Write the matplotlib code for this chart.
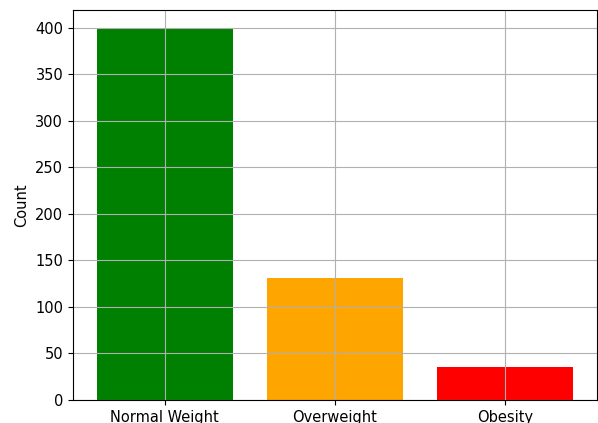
import matplotlib
matplotlib.use("Agg")
import matplotlib.pyplot as plt

categories = ["Normal Weight", "Overweight", "Obesity"]
counts = [399, 131, 35]
colors = ["green", "orange", "red"]

fig = plt.figure(figsize=(5.98, 4.23), dpi=100)
ax = fig.add_axes([73 / 598, 23 / 423, 524 / 598, 390 / 423])

ax.bar(categories, counts, color=colors)
ax.set_ylabel("Count", fontsize=10.5)
ax.tick_params(labelsize=10.5)
ax.grid(True)

fig.savefig("out.png", dpi=100)
